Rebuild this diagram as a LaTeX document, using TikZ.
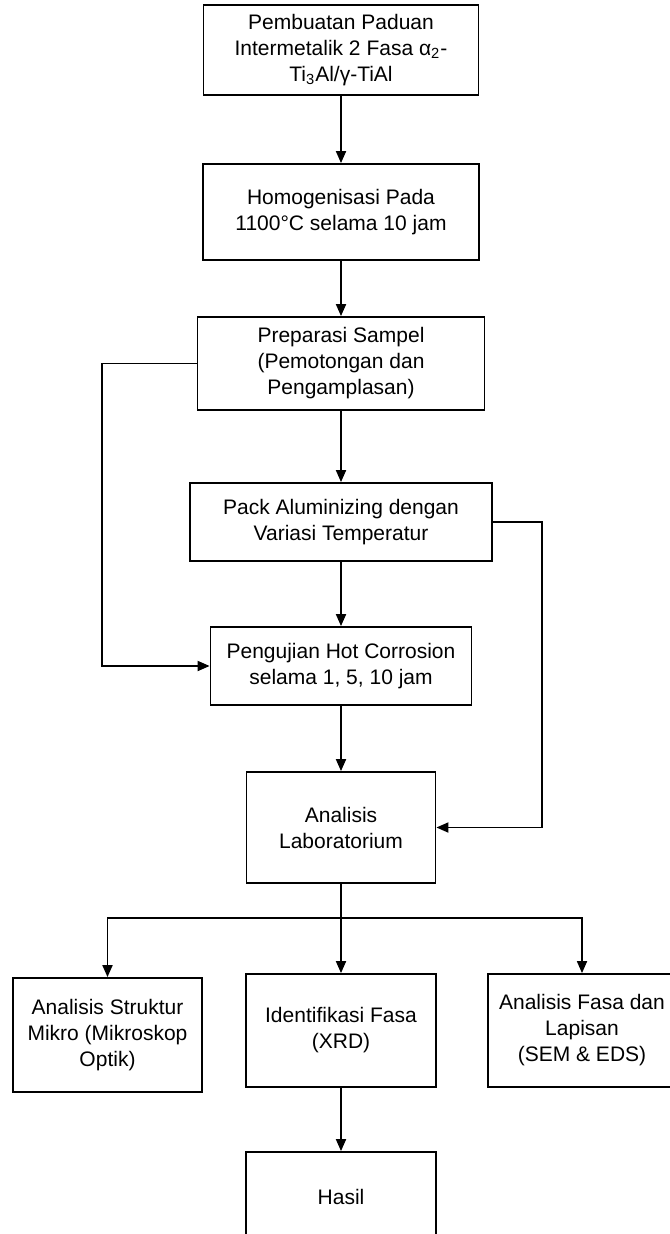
\documentclass[tikz,border=0pt]{standalone}
\usepackage{fontspec}
\setmainfont{Liberation Sans}
\usetikzlibrary{arrows.meta}

\tikzset{
  kotak/.style={draw, line width=0.9pt, align=center, inner sep=2pt,
    font=\fontsize{10.5}{13}\selectfont},
  garis/.style={line width=0.9pt},
  panah/.style={garis, -{Triangle[length=6pt,width=5pt]}}
}

\begin{document}
\begin{tikzpicture}[x=0.5pt,y=-0.5pt]
\useasboundingbox (0,0) rectangle (669,1234);

\node[kotak, minimum width=137.5pt, minimum height=45pt] (buat) at (341,50)
  {Pembuatan Paduan\\Intermetalik 2 Fasa α\textsubscript{2}-\\Ti\textsubscript{3}Al/γ-TiAl};
\node[kotak, minimum width=138pt, minimum height=48pt] (homog) at (341,212)
  {Homogenisasi Pada\\1100°C selama 10 jam};
\node[kotak, minimum width=143.5pt, minimum height=46.5pt] (prep) at (341,363.5)
  {Preparasi Sampel\\(Pemotongan dan\\Pengamplasan)};
\node[kotak, minimum width=151pt, minimum height=39pt] (pack) at (341,522)
  {Pack Aluminizing dengan\\Variasi Temperatur};
\node[kotak, minimum width=130.5pt, minimum height=39pt] (uji) at (341,666)
  {Pengujian Hot Corrosion\\selama 1, 5, 10 jam};
\node[kotak, minimum width=94.5pt, minimum height=55.5pt] (lab) at (341,827.5)
  {Analisis\\Laboratorium};
\node[kotak, minimum width=94.5pt, minimum height=57pt] (mikro) at (107.5,1035)
  {Analisis Struktur\\Mikro (Mikroskop\\Optik)};
\node[kotak, minimum width=95pt, minimum height=56.5pt] (xrd) at (341,1030.5)
  {Identifikasi Fasa\\(XRD)};
\node[kotak, minimum width=94pt, minimum height=56.5pt] (sem) at (582,1030.5)
  {Analisis Fasa dan\\Lapisan\\(SEM \& EDS)};
\node[kotak, minimum width=95pt, minimum height=45pt] (hasil) at (341,1197)
  {Hasil};

\foreach \a/\b in {buat/homog, homog/prep, prep/pack, pack/uji, uji/lab, xrd/hasil}
  \draw[panah] (\a) -- (\b);

\coordinate (kiri) at (102,0);
\coordinate (kanan) at (542,0);
\draw[panah] (prep.west) -- (prep.west -| kiri) |- (uji.west);
\draw[panah] (pack.east) -- (pack.east -| kanan) |- (lab.east);

\coordinate (cabang) at (341,918);
\draw[garis] (lab) -- (cabang);
\draw[panah] (cabang) -| (mikro.north);
\draw[panah] (cabang) -- (xrd.north);
\draw[panah] (cabang) -| (sem.north);
\end{tikzpicture}
\end{document}
